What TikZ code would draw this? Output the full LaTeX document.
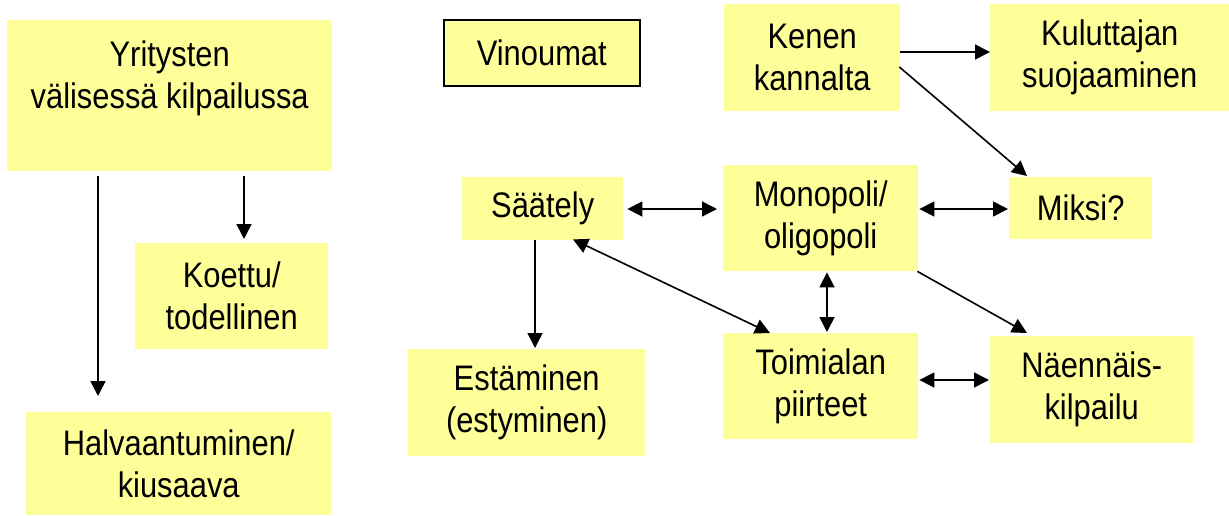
\documentclass[tikz,border=0pt]{standalone}
\usepackage{fontspec}
\setmainfont[FakeStretch=0.87]{Liberation Sans}
\usetikzlibrary{arrows.meta,calc}
\definecolor{boxyellow}{RGB}{255,255,153}
\tikzset{
  ybox/.style={fill=boxyellow, draw=none, inner sep=0pt, anchor=north west, align=center,
    font=\fontsize{35.5}{42}\selectfont},
  framed/.style={draw=black, line width=1.6pt},
  arr/.style={line width=1.6pt, -{Triangle[length=15pt,width=15pt]}},
  darr/.style={line width=1.6pt, {Triangle[length=15pt,width=15pt]}-{Triangle[length=15pt,width=15pt]}},
}
\begin{document}
\begin{tikzpicture}[x=1pt,y=-1pt]
\useasboundingbox (0,0) rectangle (1229,515);
\node[ybox, minimum width=325pt, minimum height=151pt] (yri) at (7,20) {Yritysten\\välisessä kilpailussa\\\mbox{}};
\node[ybox, minimum width=193pt, minimum height=106pt] (koe) at (135,243) {Koettu/\\todellinen};
\node[ybox, minimum width=305pt, minimum height=103pt] (hal) at (26,412) {Halvaantuminen/\\kiusaava};
\node[ybox, framed, minimum width=196pt, minimum height=66pt] (vin) at (443,19) {Vinoumat};
\node[ybox, minimum width=176pt, minimum height=107pt] (ken) at (724,4) {Kenen\\kannalta};
\node[ybox, minimum width=239pt, minimum height=107pt] (kul) at (990,4) {Kuluttajan\\suojaaminen};
\node[ybox, minimum width=161pt, minimum height=63pt] (sae) at (462,177) {Säätely};
\node[ybox, minimum width=195pt, minimum height=106pt] (mon) at (723,165) {Monopoli/\\oligopoli};
\node[ybox, minimum width=143pt, minimum height=62pt] (mik) at (1009,177) {Miksi?};
\node[ybox, minimum width=237pt, minimum height=107pt] (est) at (408,349) {Estäminen\\(estyminen)};
\node[ybox, minimum width=195pt, minimum height=106pt] (toi) at (723,333) {Toimialan\\piirteet};
\node[ybox, minimum width=203pt, minimum height=107pt] (nae) at (990,336) {Näennäis-\\kilpailu};

\draw[arr] ($(yri.south west)+(91,5)$) -- ($(hal.north west)+(72,-16)$);
\draw[arr] ($(yri.south west)+(237,5)$) -- ($(koe.north west)+(109,-4)$);
\draw[arr] ($(ken.north east)+(0,48)$) -- ($(kul.north west)+(0,48)$);
\draw[arr] ($(ken.north east)+(-1,63)$) -- ($(mik.north west)+(18,-1)$);
\draw[darr] ($(sae.north east)+(4,32)$) -- ($(mon.north west)+(-6,44)$);
\draw[darr] ($(mon.north east)+(1,44)$) -- ($(mik.north west)+(-1,32)$);
\draw[arr] ($(sae.south west)+(73,0)$) -- ($(est.north west)+(127,-1)$);
\draw[darr] ($(sae.south west)+(111,-1)$) -- ($(toi.north west)+(47,0)$);
\draw[darr] ($(mon.south west)+(104,1)$) -- ($(toi.north west)+(104,-1)$);
\draw[arr] ($(mon.south east)+(-1,0)$) -- ($(nae.north west)+(37,-3)$);
\draw[darr] ($(toi.north east)+(1,47)$) -- ($(nae.north west)+(-1,44)$);
\end{tikzpicture}
\end{document}
